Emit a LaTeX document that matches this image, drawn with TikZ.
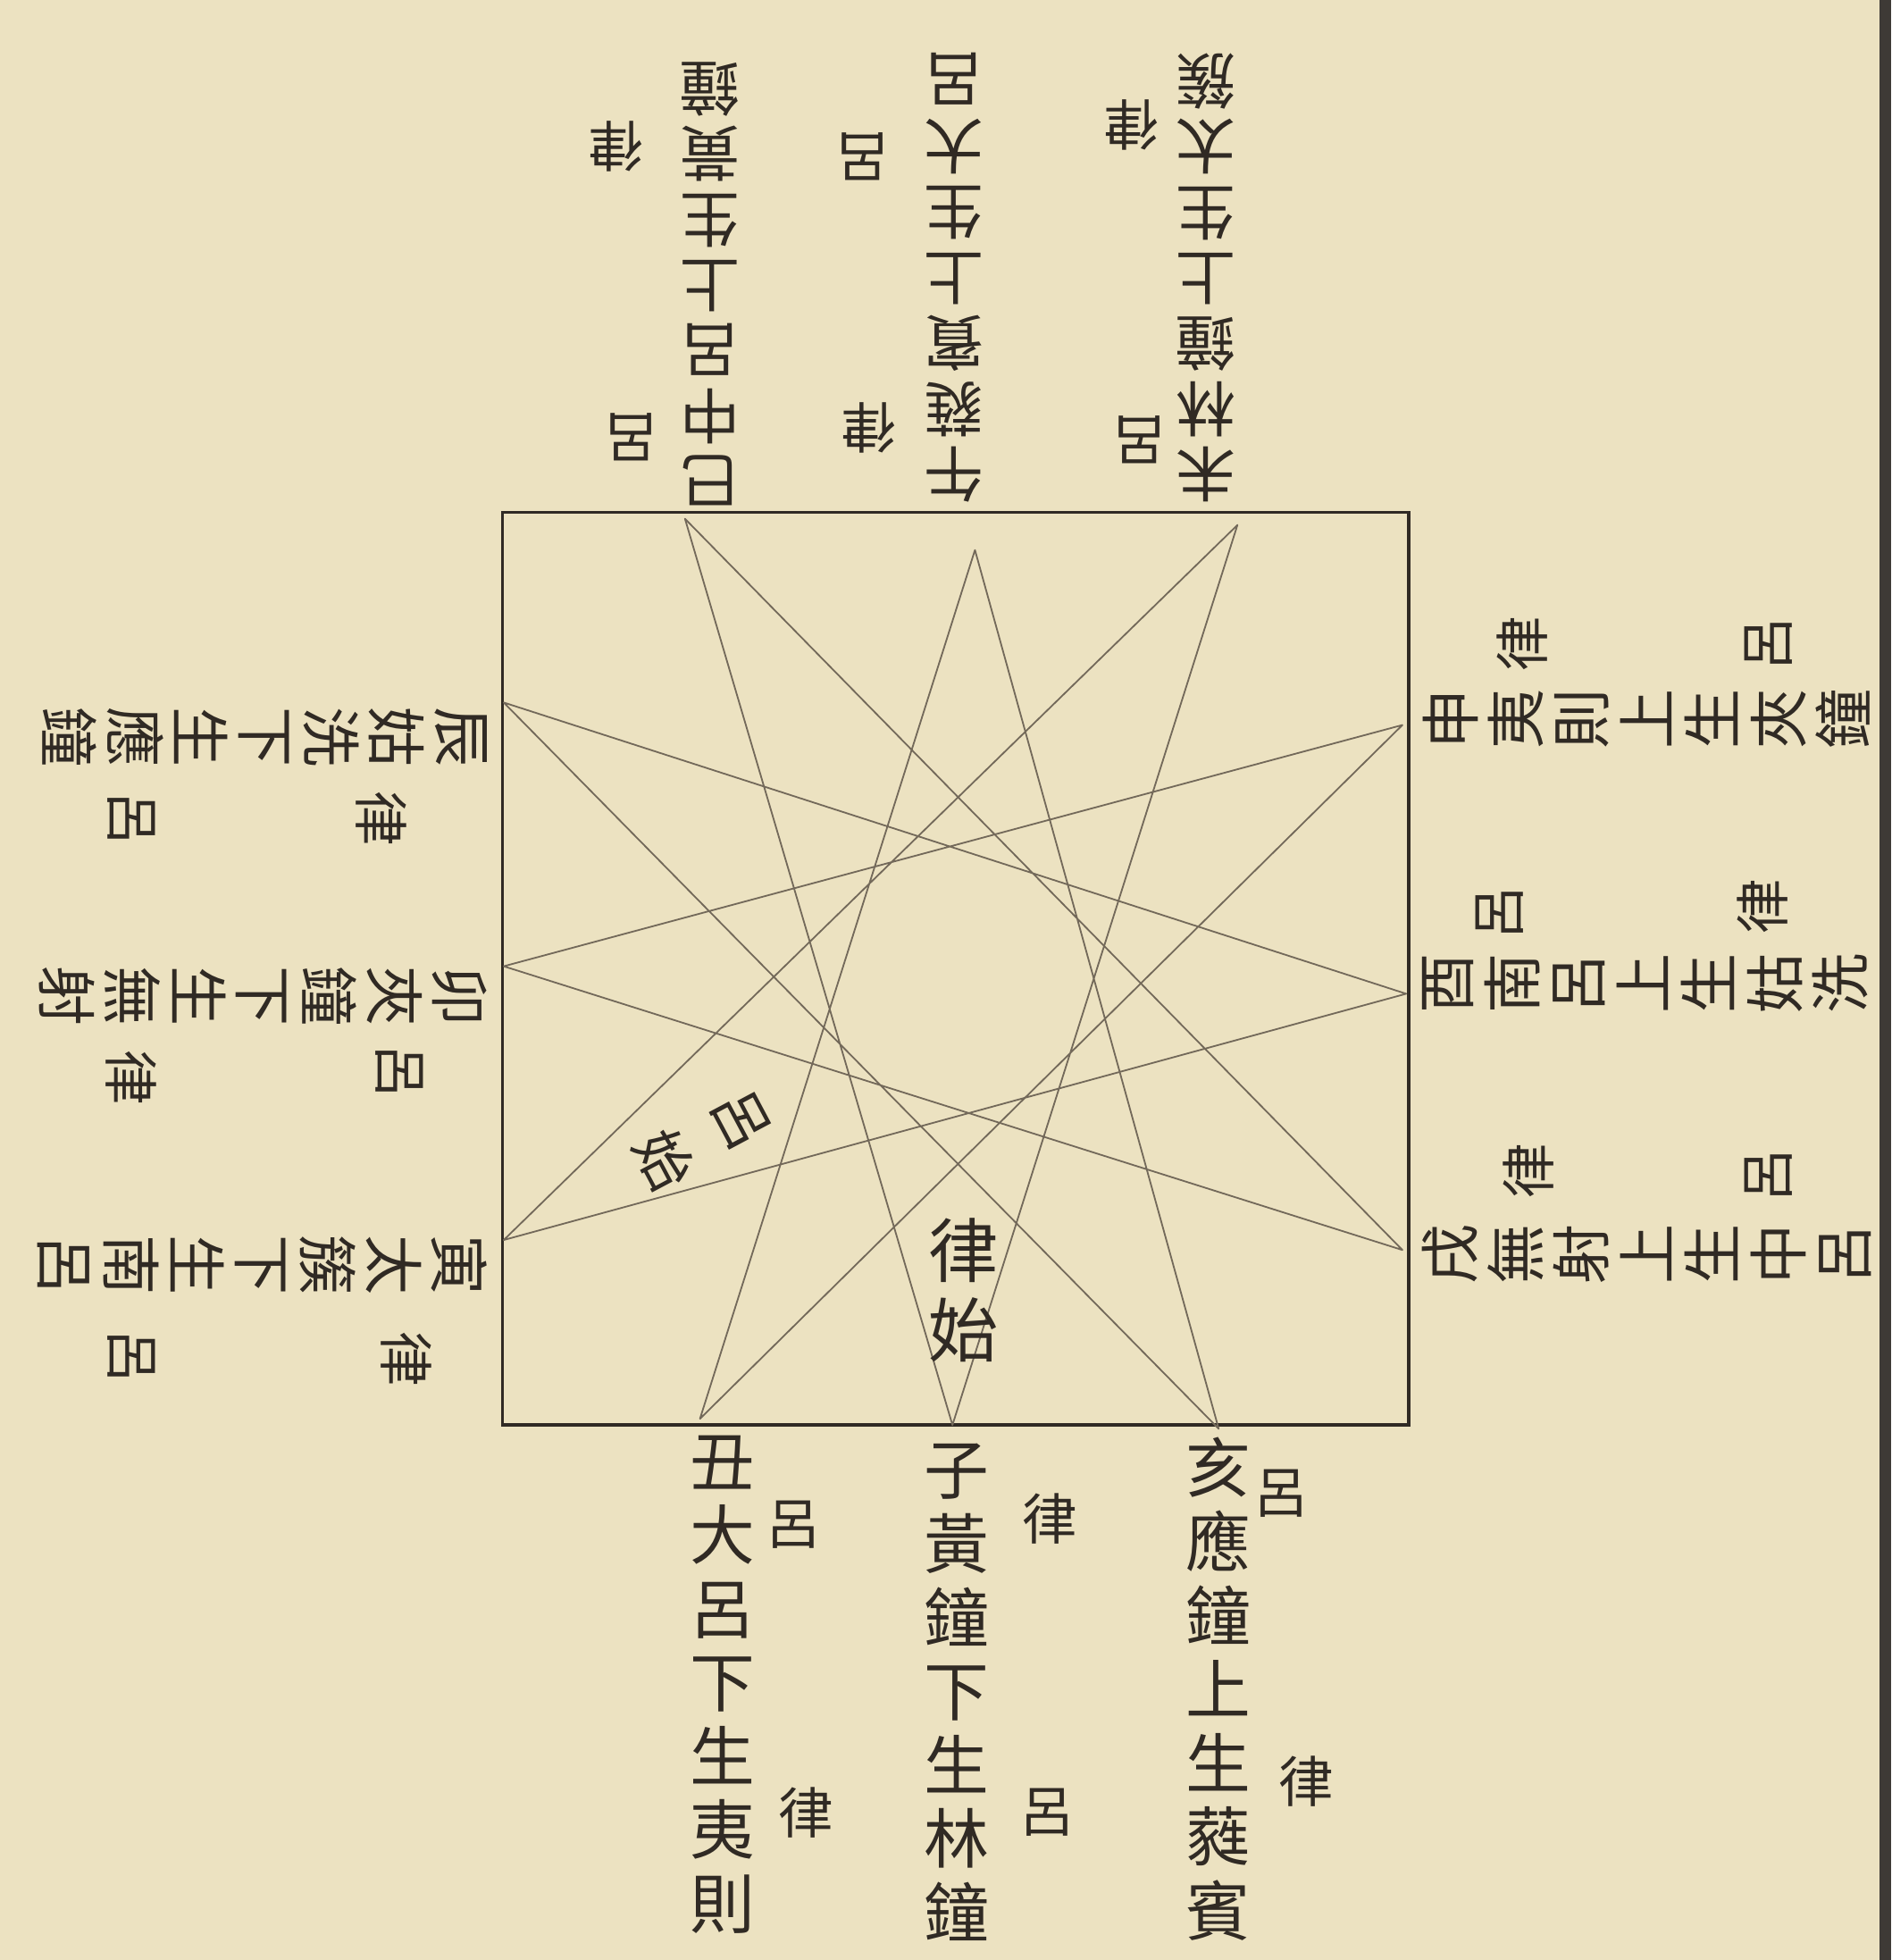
\documentclass[tikz,border=0pt]{standalone}
\usepackage{fontspec}
\newfontfamily\cjk{Noto Sans CJK TC}
\definecolor{paper}{RGB}{236,226,193}
\definecolor{ink}{RGB}{48,42,36}
\definecolor{lineink}{RGB}{115,105,90}
\definecolor{edgeink}{RGB}{62,58,54}
\tikzset{
  maincol/.style={anchor=north, align=center, inner sep=0pt, transform shape, text=ink,
    font=\cjk\fontsize{52}{59}\selectfont},
  maincolS/.style={maincol, font=\cjk\fontsize{48}{52.5}\selectfont},
  anno/.style={inner sep=0pt, transform shape, text=ink, font=\cjk\fontsize{44}{44}\selectfont},
  centerlbl/.style={align=center, inner sep=0pt, text=ink},
  starline/.style={draw=lineink, line width=1.3pt, line join=round},
  framebox/.style={draw=ink, line width=2.4pt},
}
\begin{document}
\begin{tikzpicture}[x=1pt,y=1pt]
\useasboundingbox (0,0) rectangle (1513,-1568);
\fill[paper] (0,0) rectangle (1513,-1568);
\fill[edgeink] (1504,0) rectangle (1513,-1568);

% frame
\draw[framebox] (402,-410) rectangle (1127,-1140);

% twelve points
\coordinate (Psi) at (548,-415);
\coordinate (Pwu) at (780,-440);
\coordinate (Pwei) at (990,-420);
\coordinate (Pshen) at (1122,-580);
\coordinate (Pyou) at (1125,-795);
\coordinate (Pxu) at (1122,-1000);
\coordinate (Phai) at (975,-1143);
\coordinate (Pzi) at (762,-1140);
\coordinate (Pchou) at (560,-1135);
\coordinate (Pyin) at (403,-992);
\coordinate (Pmao) at (403,-773);
\coordinate (Pchen) at (403,-562);

\draw[starline] (Pzi) -- (Pwei) -- (Pyin) -- (Pyou) -- (Pchen) -- (Phai) -- (Pwu)
  -- (Pchou) -- (Pshen) -- (Pmao) -- (Pxu) -- (Psi) -- cycle;

% bottom groups
\begin{scope}[shift={(975,-1150)}]
  \node[maincol] (hai) at (0,0) {亥\\應\\鐘\\上\\生\\蕤\\賓};
  \node[anno] (haiA) at (50,-45) {呂};
  \node[anno] (haiB) at (70,-275) {律};
\end{scope}
\begin{scope}[shift={(765,-1155)}]
  \node[maincol] (zi) at (0,0) {子\\黃\\鐘\\下\\生\\林\\鐘};
  \node[anno] (ziA) at (75,-60) {律};
  \node[anno] (ziB) at (73,-295) {呂};
\end{scope}
\begin{scope}[shift={(578,-1148)}]
  \node[maincol] (chou) at (0,0) {丑\\大\\呂\\下\\生\\夷\\則};
  \node[anno] (chouA) at (57,-72) {呂};
  \node[anno] (chouB) at (67,-302) {律};
\end{scope}

% top groups
\begin{scope}[shift={(965,-402)}, rotate=180]
  \node[maincolS] (wei) at (0,0) {未\\林\\鐘\\上\\生\\太\\簇};
  \node[anno] (weiA) at (53,-50) {呂};
  \node[anno] (weiB) at (60,-302) {律};
\end{scope}
\begin{scope}[shift={(763,-402)}, rotate=180]
  \node[maincolS] (wu) at (0,0) {午\\蕤\\賓\\上\\生\\大\\呂};
  \node[anno] (wuA) at (68,-60) {律};
  \node[anno] (wuB) at (73,-277) {呂};
\end{scope}
\begin{scope}[shift={(568,-405)}, rotate=180]
  \node[maincolS] (si) at (0,0) {巳\\中\\呂\\上\\生\\黃\\鐘};
  \node[anno] (siA) at (63,-55) {呂};
  \node[anno] (siB) at (75,-288) {律};
\end{scope}

% left groups
\begin{scope}[shift={(390,-590)}, rotate=-90]
  \node[maincolS] (chen) at (0,0) {辰\\姑\\洗\\下\\生\\應\\鐘};
  \node[anno] (chenA) at (65,-85) {律};
  \node[anno] (chenB) at (65,-285) {呂};
\end{scope}
\begin{scope}[shift={(390,-797)}, rotate=-90]
  \node[maincolS] (mao) at (0,0) {卯\\夾\\鐘\\下\\生\\無\\射};
  \node[anno] (maoA) at (60,-70) {呂};
  \node[anno] (maoB) at (65,-285) {律};
\end{scope}
\begin{scope}[shift={(390,-1012)}, rotate=-90]
  \node[maincolS] (yin) at (0,0) {寅\\太\\簇\\下\\生\\南\\呂};
  \node[anno] (yinA) at (75,-65) {律};
  \node[anno] (yinB) at (73,-285) {呂};
\end{scope}

% right groups
\begin{scope}[shift={(1138,-575)}, rotate=90]
  \node[maincolS] (shen) at (0,0) {申\\夷\\則\\上\\生\\夾\\鐘};
  \node[anno] (shenA) at (60,-80) {律};
  \node[anno] (shenB) at (60,-277) {呂};
\end{scope}
\begin{scope}[shift={(1138,-787)}, rotate=90]
  \node[maincolS] (you) at (0,0) {酉\\南\\呂\\上\\生\\姑\\洗};
  \node[anno] (youA) at (57,-62) {呂};
  \node[anno] (youB) at (62,-272) {律};
\end{scope}
\begin{scope}[shift={(1138,-1003)}, rotate=90]
  \node[maincolS] (xu) at (0,0) {戌\\無\\射\\上\\生\\中\\呂};
  \node[anno] (xuA) at (66,-85) {律};
  \node[anno] (xuB) at (63,-277) {呂};
\end{scope}

% centre labels
\node[centerlbl, font=\cjk\fontsize{56}{64}\selectfont] (lvshi) at (771,-1032) {律\\始};
\node[centerlbl, font=\cjk\fontsize{46}{70}\selectfont, rotate=-62] (lushi) at (562,-912) {呂\\始};
\end{tikzpicture}
\end{document}
